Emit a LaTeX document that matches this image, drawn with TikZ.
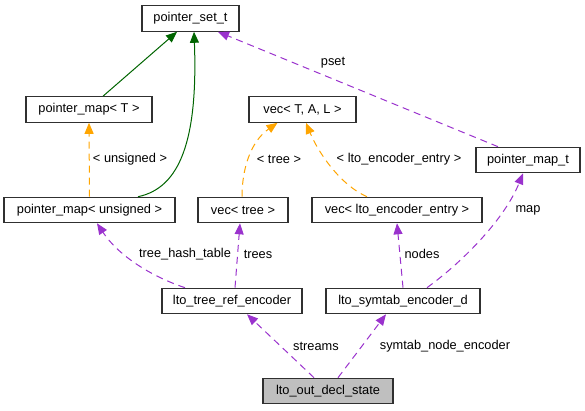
\documentclass[tikz,border=0pt]{standalone}
\usepackage{fontspec}
\setmainfont{Liberation Sans}
\usetikzlibrary{arrows.meta}
\definecolor{cgreen}{HTML}{006400}
\definecolor{corange}{HTML}{FFA500}
\definecolor{cpurple}{HTML}{9A32CD}
\definecolor{cfill}{HTML}{BFBFBF}
\definecolor{cborder}{HTML}{303030}
\begin{document}
\begin{tikzpicture}[x=1pt,y=-1pt,
  font=\fontsize{12.8}{15}\selectfont,
  box/.style={draw=cborder,line width=1.1pt,fill=white,inner sep=0pt,minimum height=25.5pt},
  lbl/.style={inner sep=0pt,text=black},
  tip/.style={-{Triangle[length=11pt,width=9pt]}},
  inherit/.style={tip,draw=cgreen,line width=1pt},
  templ/.style={tip,draw=corange,line width=1pt,dash pattern=on 7pt off 5pt},
  usage/.style={tip,draw=cpurple,line width=1pt,dash pattern=on 7pt off 5pt}]
\useasboundingbox (0,0) rectangle (585,411);
% nodes
\node[box,minimum width=97pt] (pset) at (190.5,18.5) {pointer\_set\_t};
\node[box,minimum width=126pt] (pmT) at (89,109.5) {pointer\_map< T >};
\node[box,minimum width=107pt] (vecTAL) at (302.5,109.5) {vec< T, A, L >};
\node[box,minimum width=104pt] (pmt) at (528,160) {pointer\_map\_t};
\node[box,minimum width=171pt] (pmu) at (89.5,210) {pointer\_map< unsigned >};
\node[box,minimum width=90pt] (vectree) at (243,210) {vec< tree >};
\node[box,minimum width=170pt] (veclee) at (397,210) {vec< lto\_encoder\_entry >};
\node[box,minimum width=140pt] (ltre) at (232,301) {lto\_tree\_ref\_encoder};
\node[box,minimum width=154pt] (lse) at (403,301) {lto\_symtab\_encoder\_d};
\node[box,minimum width=130pt,fill=cfill] (lods) at (328,391) {lto\_out\_decl\_state};
% edges
\draw[inherit] ([xshift=14pt]pmT.north) -- ([xshift=-13.5pt]pset.south);
\draw[inherit] ([xshift=48.5pt]pmu.north) .. controls (180,188) and (198,140) .. ([xshift=3.5pt]pset.south);
\draw[templ] (pmu.north) -- (pmT.south);
\draw[templ] ([xshift=-1pt]vectree.north) .. controls (242,170) and (250,142) .. ([xshift=-25pt]vecTAL.south);
\draw[templ] ([xshift=-30pt]veclee.north) .. controls (340,185) and (318,152) .. ([xshift=3.5pt]vecTAL.south);
\draw[usage] ([xshift=-30pt]pmt.north) -- ([xshift=27.5pt]pset.south);
\draw[usage] ([xshift=-47pt]ltre.north) .. controls (150,276) and (118,255) .. ([xshift=7.5pt]pmu.south);
\draw[usage] ([xshift=3pt]ltre.north) -- ([xshift=-3pt]vectree.south);
\draw[usage] (lse.north) -- (veclee.south);
\draw[usage] ([xshift=24pt]lse.north) .. controls (465,260) and (505,218) .. ([xshift=-5pt]pmt.south);
\draw[usage] ([xshift=-14pt]lods.north) -- ([xshift=15pt]ltre.south);
\draw[usage] ([xshift=10pt]lods.north) -- ([xshift=-17pt]lse.south);
% labels
\node[lbl] (l1) at (130,159) {< unsigned >};
\node[lbl] (l2) at (279,159) {< tree >};
\node[lbl] (l3) at (399,159) {< lto\_encoder\_entry >};
\node[lbl] (l4) at (333,63) {pset};
\node[lbl] (l5) at (185,254) {tree\_hash\_table};
\node[lbl] (l6) at (258,254) {trees};
\node[lbl] (l7) at (422,254) {nodes};
\node[lbl] (l8) at (528,210) {map};
\node[lbl] (l9) at (316,346) {streams};
\node[lbl] (l10) at (445,346) {symtab\_node\_encoder};
\end{tikzpicture}
\end{document}
